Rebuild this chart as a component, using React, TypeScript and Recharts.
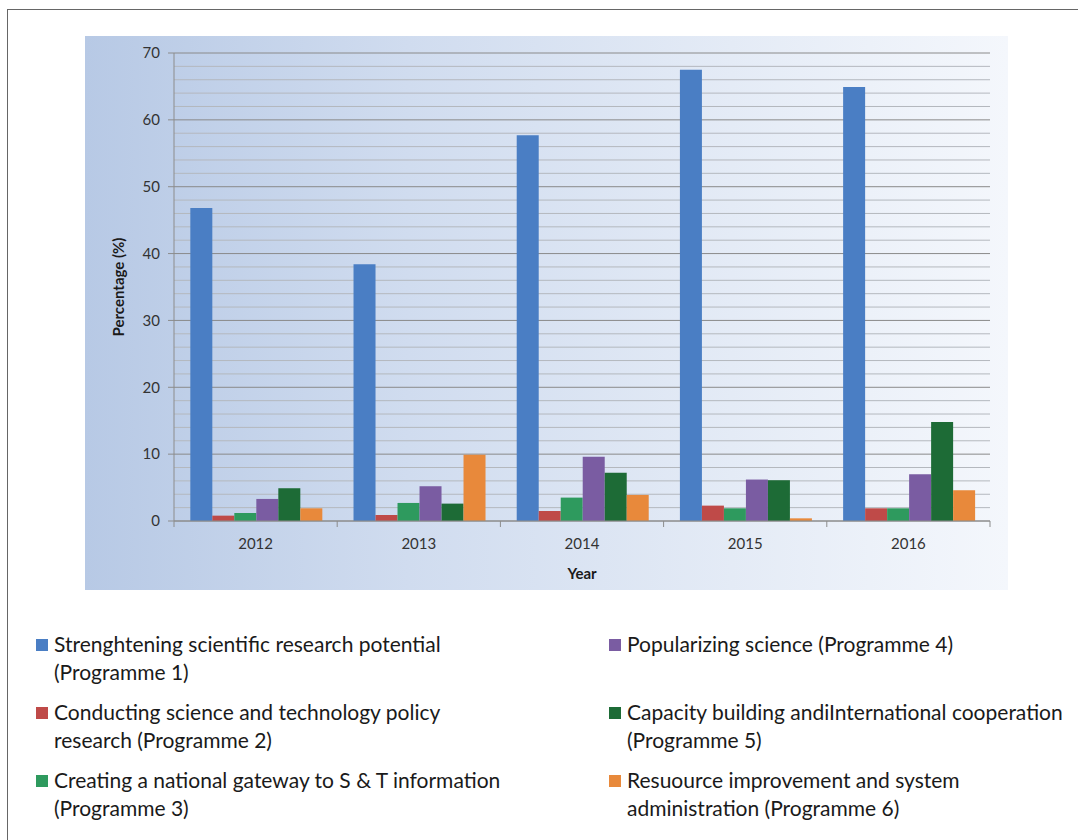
import React from 'react';
import { BarChart, Bar, XAxis, YAxis, CartesianGrid, ReferenceLine } from 'recharts';

const years = ['2012', '2013', '2014', '2015', '2016'];

const programme1 = [46.8, 38.4, 57.7, 67.5, 64.9];
const programme2 = [0.8, 0.9, 1.5, 2.3, 1.9];
const programme3 = [1.2, 2.7, 3.5, 1.9, 1.9];
const programme4 = [3.3, 5.2, 9.6, 6.2, 7.0];
const programme5 = [4.9, 2.6, 7.2, 6.1, 14.8];
const programme6 = [1.9, 9.9, 3.9, 0.4, 4.6];

const majorTicks = [0, 10, 20, 30, 40, 50, 60, 70];
const minorTicks = [
  2, 4, 6, 8, 12, 14, 16, 18, 22, 24, 26, 28, 32, 34, 36, 38,
  42, 44, 46, 48, 52, 54, 56, 58, 62, 64, 66, 68,
];

const series = [
  { key: 'p1', values: programme1, color: '#4a7ec4', label: 'Strenghtening scientific research potential\n(Programme 1)' },
  { key: 'p2', values: programme2, color: '#bf4a48', label: 'Conducting science and technology policy\nresearch (Programme 2)' },
  { key: 'p3', values: programme3, color: '#2e9a5e', label: 'Creating a national gateway to S & T information\n(Programme 3)' },
  { key: 'p4', values: programme4, color: '#7a5ca2', label: 'Popularizing science (Programme 4)' },
  { key: 'p5', values: programme5, color: '#1d6b36', label: 'Capacity building andiInternational cooperation\n(Programme 5)' },
  { key: 'p6', values: programme6, color: '#e8893b', label: 'Resuource improvement and system\nadministration (Programme 6)' },
];

const data = years.map((year, i) => {
  const row: Record<string, string | number> = { year };
  series.forEach((s) => {
    row[s.key] = s.values[i];
  });
  return row;
});

const FONT = 'Lato, "Open Sans", sans-serif';
const CHART_W = 923;
const CHART_H = 554;
const MARGIN = { top: 17, right: 18, left: 0, bottom: 9 };
const Y_AXIS_W = 89;
const BAND = (CHART_W - MARGIN.left - MARGIN.right - Y_AXIS_W) / years.length;

function YearTick(props: any) {
  const { x, y, payload, index } = props;
  const left = x - BAND / 2;
  const right = x + BAND / 2;
  return (
    <g>
      <line x1={left} y1={y} x2={left} y2={y + 6} stroke="#8c8c8c" />
      {index === years.length - 1 && <line x1={right} y1={y} x2={right} y2={y + 6} stroke="#8c8c8c" />}
      <text x={x} y={y + 28} textAnchor="middle" fontSize={15} fill="#333" fontFamily={FONT}>
        {payload.value}
      </text>
    </g>
  );
}

function LegendBlock() {
  const left = series.slice(0, 3);
  const right = series.slice(3);
  const column = (items: typeof series, x: number) =>
    items.map((s, i) => (
      <div
        key={s.key}
        style={{ position: 'absolute', left: x, top: 630 + i * 68, display: 'flex', alignItems: 'flex-start' }}
      >
        <div style={{ width: 12, height: 12, background: s.color, marginTop: 9, marginRight: 6 }} />
        <div style={{ whiteSpace: 'pre-line', fontSize: 21, lineHeight: '28px', color: '#1a1a1a', fontFamily: FONT }}>
          {s.label}
        </div>
      </div>
    ));
  return (
    <>
      {column(left, 36)}
      {column(right, 609)}
    </>
  );
}

export default function App() {
  return (
    <div style={{ position: 'absolute', left: 0, top: 0, width: 1078, height: 840, overflow: 'hidden', background: '#fff' }}>
      <div
        style={{
          position: 'absolute',
          left: 7,
          top: 9,
          width: 1071,
          height: 831,
          borderTop: '1px solid #666',
          borderLeft: '1px solid #666',
        }}
      />
      <div
        style={{
          position: 'absolute',
          left: 85,
          top: 36,
          width: CHART_W,
          height: CHART_H,
          background: 'linear-gradient(90deg, #b7c9e5 0%, #d0dcef 35%, #e4ebf6 70%, #f4f7fc 100%)',
        }}
      >
        <BarChart
          width={CHART_W}
          height={CHART_H}
          data={data}
          margin={MARGIN}
          barCategoryGap="10%"
          barGap={0}
        >
          <CartesianGrid vertical={false} stroke="#8a8a8a" />
          {minorTicks.map((t) => (
            <ReferenceLine key={t} y={t} stroke="#b4b8be" zIndex={-90} />
          ))}
          <XAxis
            dataKey="year"
            axisLine={{ stroke: '#8c8c8c' }}
            tickLine={false}
            tickSize={0}
            tickMargin={0}
            height={60}
            tick={<YearTick />}
            label={{
              value: 'Year',
              position: 'insideBottom',
              offset: 2,
              style: { fontSize: 15, fontWeight: 700, fill: '#1a1a1a', fontFamily: FONT },
            }}
          />
          <YAxis
            domain={[0, 70]}
            ticks={majorTicks}
            width={Y_AXIS_W}
            axisLine={{ stroke: '#8c8c8c' }}
            tickLine={{ stroke: '#8c8c8c' }}
            tickSize={6}
            tickMargin={8}
            tick={{ fontSize: 15, fill: '#333', fontFamily: FONT }}
            label={{
              value: 'Percentage (%)',
              angle: -90,
              position: 'insideLeft',
              offset: 34,
              style: { textAnchor: 'middle', fontSize: 15, fontWeight: 700, fill: '#1a1a1a', fontFamily: FONT },
            }}
          />
          {series.map((s) => (
            <Bar key={s.key} dataKey={s.key} fill={s.color} isAnimationActive={false} />
          ))}
        </BarChart>
      </div>
      <LegendBlock />
    </div>
  );
}
